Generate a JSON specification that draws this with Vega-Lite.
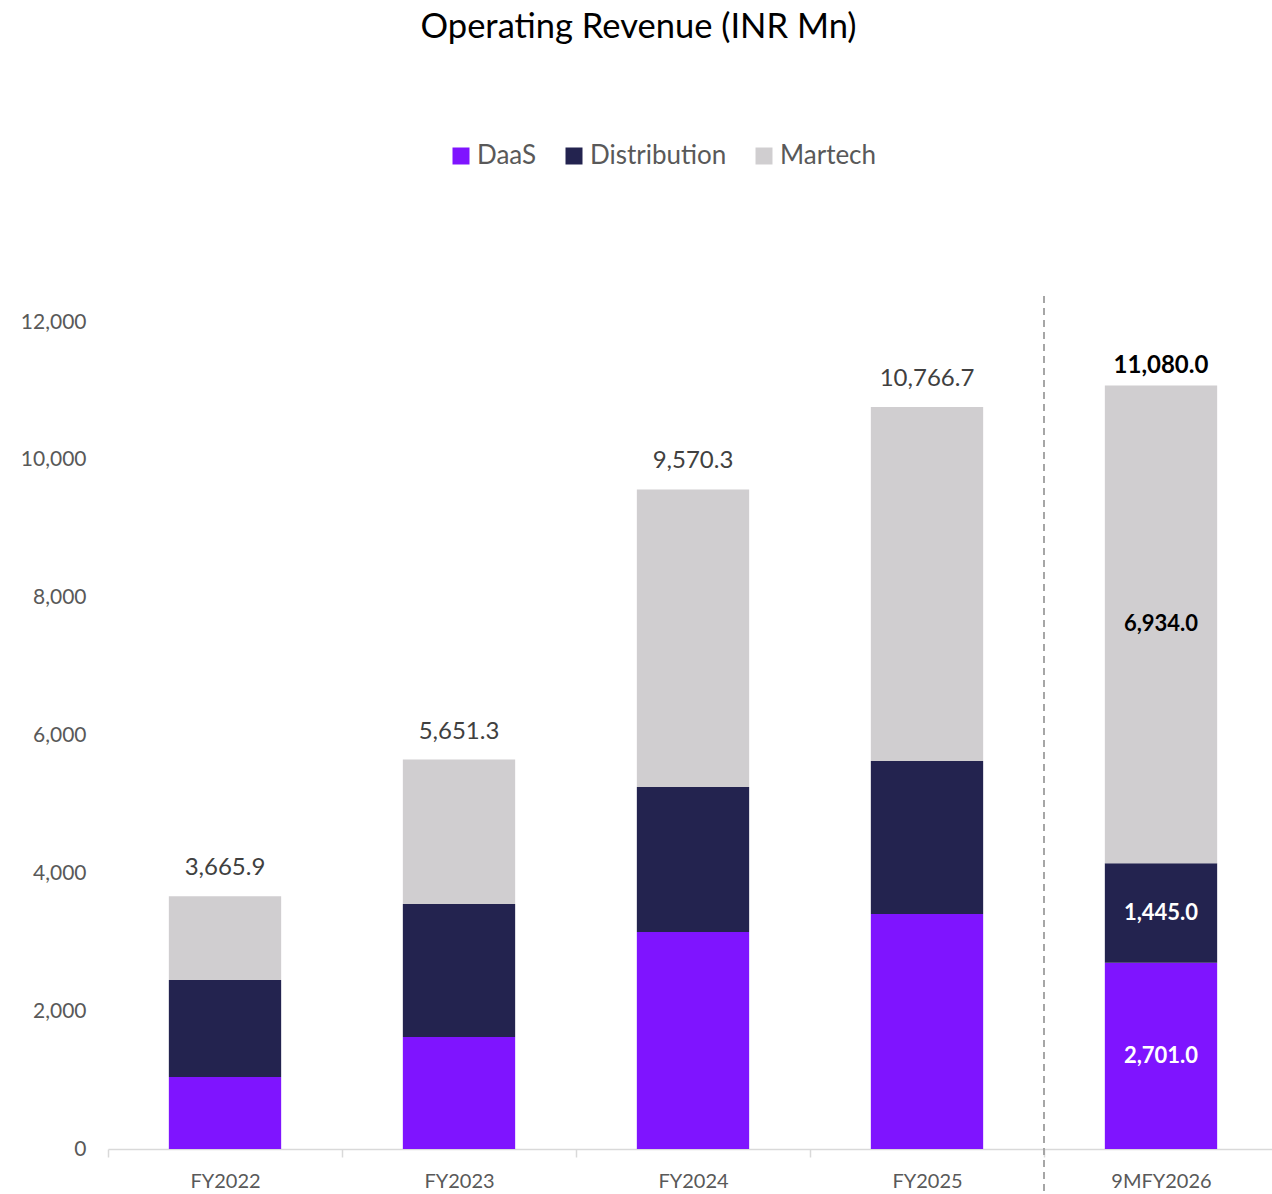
{
  "$schema": "https://vega.github.io/schema/vega-lite/v6.json",
  "autosize": "none",
  "width": 1164,
  "height": 827,
  "padding": {"left": 108, "top": 322, "right": 0, "bottom": 45},
  "background": "white",
  "config": {"view": {"stroke": null}, "font": "Lato"},
  "title": {
    "text": "Operating Revenue (INR Mn)",
    "fontSize": 34.5,
    "fontWeight": "normal",
    "color": "#000000",
    "font": "Lato",
    "anchor": "middle",
    "frame": "bounds",
    "offset": 98,
    "dx": -11
  },
  "datasets": {
    "segments": [
      {"cat": "FY2022", "segment": "DaaS", "ord": 1, "value": 1045, "show": false},
      {"cat": "FY2022", "segment": "Distribution", "ord": 2, "value": 1407, "show": false},
      {"cat": "FY2022", "segment": "Martech", "ord": 3, "value": 1213.9, "show": false},
      {"cat": "FY2023", "segment": "DaaS", "ord": 1, "value": 1625, "show": false},
      {"cat": "FY2023", "segment": "Distribution", "ord": 2, "value": 1930, "show": false},
      {"cat": "FY2023", "segment": "Martech", "ord": 3, "value": 2096.3, "show": false},
      {"cat": "FY2024", "segment": "DaaS", "ord": 1, "value": 3149, "show": false},
      {"cat": "FY2024", "segment": "Distribution", "ord": 2, "value": 2104, "show": false},
      {"cat": "FY2024", "segment": "Martech", "ord": 3, "value": 4317.3, "show": false},
      {"cat": "FY2025", "segment": "DaaS", "ord": 1, "value": 3410, "show": false},
      {"cat": "FY2025", "segment": "Distribution", "ord": 2, "value": 2220, "show": false},
      {"cat": "FY2025", "segment": "Martech", "ord": 3, "value": 5136.7, "show": false},
      {"cat": "9MFY2026", "segment": "DaaS", "ord": 1, "value": 2701.0, "show": true},
      {"cat": "9MFY2026", "segment": "Distribution", "ord": 2, "value": 1445.0, "show": true},
      {"cat": "9MFY2026", "segment": "Martech", "ord": 3, "value": 6934.0, "show": true}
    ],
    "totals": [
      {"cat": "FY2022", "total": 3665.9, "bold": false},
      {"cat": "FY2023", "total": 5651.3, "bold": false},
      {"cat": "FY2024", "total": 9570.3, "bold": false},
      {"cat": "FY2025", "total": 10766.7, "bold": false},
      {"cat": "9MFY2026", "total": 11080.0, "bold": true}
    ]
  },
  "encoding": {
    "x": {
      "field": "cat",
      "type": "nominal",
      "sort": ["FY2022", "FY2023", "FY2024", "FY2025", "9MFY2026"],
      "scale": {"paddingInner": 0, "paddingOuter": 0, "range": [0, 1170]},
      "axis": {
        "title": null,
        "labelAngle": 0,
        "labelFontSize": 20,
        "labelColor": "#595959",
        "labelFont": "Lato",
        "domainColor": "#D9D9D9",
        "domainWidth": 1.5,
        "tickColor": "#D9D9D9",
        "tickWidth": 1.5,
        "tickSize": 8,
        "tickBand": "extent",
        "labelPadding": 14
      }
    }
  },
  "layer": [
    {
      "data": {"name": "segments"},
      "mark": {"type": "bar", "width": {"band": 0.48}},
      "encoding": {
        "y": {
          "field": "value",
          "type": "quantitative",
          "stack": "zero",
          "scale": {"domain": [0, 12000], "nice": false},
          "axis": {
            "title": null,
            "values": [0, 2000, 4000, 6000, 8000, 10000, 12000],
            "format": ",d",
            "grid": false,
            "domain": false,
            "ticks": false,
            "labelFontSize": 21,
            "labelColor": "#595959",
            "labelFont": "Lato",
            "labelPadding": 22
          }
        },
        "order": {"field": "ord", "type": "quantitative"},
        "color": {
          "field": "segment",
          "type": "nominal",
          "scale": {
            "domain": ["DaaS", "Distribution", "Martech"],
            "range": ["#7F14FF", "#23234F", "#D0CED0"]
          },
          "legend": {
            "title": null,
            "orient": "none",
            "direction": "horizontal",
            "legendX": 340,
            "legendY": -179,
            "symbolType": "square",
            "symbolSize": 289,
            "symbolStrokeWidth": 0,
            "labelFontSize": 26,
            "labelColor": "#595959",
            "labelFont": "Lato",
            "columnPadding": 24,
            "labelOffset": 3
          }
        }
      }
    },
    {
      "data": {"name": "segments"},
      "transform": [
        {"stack": "value", "groupby": ["cat"], "sort": [{"field": "ord"}], "as": ["v0", "v1"]},
        {"filter": "datum.show"},
        {"calculate": "(datum.v0 + datum.v1) / 2", "as": "mid"}
      ],
      "mark": {"type": "text", "fontSize": 22, "fontWeight": "bold", "font": "Lato", "baseline": "middle", "align": "center"},
      "encoding": {
        "y": {"field": "mid", "type": "quantitative"},
        "text": {"field": "value", "type": "quantitative", "format": ",.1f"},
        "color": {
          "condition": {"test": "datum.segment === 'Martech'", "value": "#000000"},
          "value": "#FFFFFF"
        }
      }
    },
    {
      "data": {"name": "totals"},
      "transform": [{"filter": "!datum.bold"}],
      "mark": {"type": "text", "fontSize": 24, "font": "Lato", "baseline": "bottom", "align": "center", "dy": -16, "color": "#404040"},
      "encoding": {
        "y": {"field": "total", "type": "quantitative"},
        "text": {"field": "total", "type": "quantitative", "format": ",.1f"}
      }
    },
    {
      "data": {"name": "totals"},
      "transform": [{"filter": "datum.bold"}],
      "mark": {"type": "text", "fontSize": 24, "fontWeight": "bold", "font": "Lato", "baseline": "bottom", "align": "center", "dy": -7, "color": "#000000"},
      "encoding": {
        "y": {"field": "total", "type": "quantitative"},
        "text": {"field": "total", "type": "quantitative", "format": ",.1f"}
      }
    },
    {
      "data": {"values": [{"cat": "9MFY2026"}]},
      "mark": {"type": "rule", "strokeDash": [7, 5], "color": "#A6A6A6", "strokeWidth": 2, "clip": false},
      "encoding": {
        "x": {"field": "cat", "type": "nominal", "bandPosition": 0},
        "y": {"datum": 12377},
        "y2": {"datum": -624}
      }
    }
  ]
}
